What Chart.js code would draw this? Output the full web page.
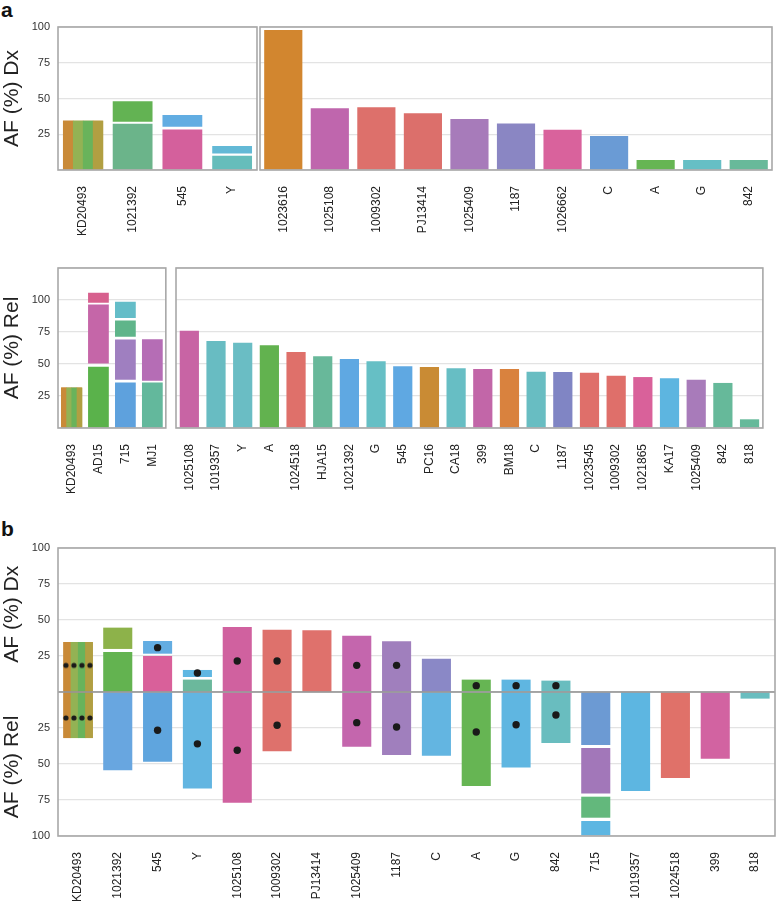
<!DOCTYPE html>
<html>
<head>
<meta charset="utf-8">
<script src="https://cdn.jsdelivr.net/npm/chart.js@4"></script>
<style>
  body { margin: 0; background: #fff; width: 780px; height: 909px; position: relative; overflow: hidden;
         font-family: "Liberation Sans", Arial, sans-serif; }
  canvas { position: absolute; }
  .tag { position: absolute; font-weight: bold; font-size: 21px; color: #111; }
</style>
</head>
<body>
<div class="tag" style="left:1px;top:-2px">a</div>
<div class="tag" style="left:1px;top:517px">b</div>
<canvas id="dxShared" width="259" height="228" style="left:0;top:12px"></canvas>
<canvas id="dxOnly" width="516" height="228" style="left:258px;top:12px"></canvas>
<canvas id="relShared" width="175" height="247" style="left:0;top:253px"></canvas>
<canvas id="relOnly" width="598" height="247" style="left:174px;top:253px"></canvas>
<canvas id="paired" width="779" height="376" style="left:0;top:533px"></canvas>
<script>
// ---- panel a, top: AF (%) at diagnosis ----
const dxSharedLabels = ["KD20493", "1021392", "545", "Y"];
const dxSharedLayer1 = [[0, 34.5], [0, 32.4], [0, 28.4], [0, 10]];
const dxSharedLayer2 = [null, [33.8, 48], [30.3, 38.5], [11.6, 16.8]];
const dxSharedColors1 = ["#c98a38", "#6bb48a", "#d4609c", "#66bdbb"];
const dxSharedColors2 = [null, "#63b353", "#62ade2", "#63b9d6"];

const dxOnlyLabels = ["1023616", "1025108", "1009302", "PJ13414", "1025409", "1187", "1026662", "C", "A", "G", "842"];
const dxOnlyValues = [97.9, 43.1, 43.8, 39.6, 35.7, 32.6, 28.2, 23.8, 7, 7, 7];
const dxOnlyColors = ["#d2862f", "#bf66ad", "#dd706b", "#dc6f6b", "#a77bba", "#8a86c3", "#d9629c", "#6a9bd5", "#66b553", "#66bfc5", "#68b99a"];

// ---- panel a, bottom: AF (%) at relapse ----
const relSharedLabels = ["KD20493", "AD15", "715", "MJ1"];
const relSharedLayer1 = [[0, 31.6], [0, 47.9], [0, 35.5], [0, 35.5]];
const relSharedLayer2 = [null, [50.3, 96.4], [37.6, 69.2], [37, 69.4]];
const relSharedLayer3 = [null, [97.9, 105.7], [71.2, 83.9], null];
const relSharedLayer4 = [null, null, [86, 98.7], null];
const relSharedColors1 = ["#c98a38", "#5ab24b", "#5ea1dd", "#63b89c"];
const relSharedColors2 = [null, "#c566a8", "#9f7fc0", "#b56db5"];
const relSharedColors3 = [null, "#d7608e", "#5fb58a", null];
const relSharedColors4 = [null, null, "#64bdc8", null];

const relOnlyLabels = ["1025108", "1019357", "Y", "A", "1024518", "HJA15", "1021392", "G", "545", "PC16", "CA18",
  "399", "BM18", "C", "1187", "1023545", "1009302", "1021865", "KA17", "1025409", "842", "818"];
const relOnlyValues = [76, 68, 66.6, 64.6, 59.4, 56, 53.9, 52.1, 48.2, 47.7, 46.6,
  46.1, 46, 44, 43.8, 43.2, 40.9, 39.8, 38.8, 37.7, 35.2, 6.8];
const relOnlyColors = ["#c864a4", "#68bcc2", "#6abdc4", "#62b24f", "#df706a", "#68b89a", "#5fa8e2", "#66bfc5", "#5fa8e2", "#c98b34", "#67bec4",
  "#c266a8", "#d9823e", "#68bdc2", "#8085c4", "#df6f6a", "#df6f6a", "#d9619a", "#5db5e0", "#a87bba", "#66b99a", "#66b99a"];

// ---- panel b: paired Dx (up) and Rel (down) ----
const pairedLabels = ["KD20493", "1021392", "545", "Y", "1025108", "1009302", "PJ13414", "1025409", "1187",
  "C", "A", "G", "842", "715", "1019357", "1024518", "399", "818"];
const pairedDx1 = [[0, 34.7], [0, 27.8], [0, 25], [0, 8.6], [0, 45.1], [0, 43.3], [0, 42.8], [0, 39.1], [0, 35.2],
  [0, 23.1], [0, 8.6], [0, 8.6], [0, 7.9], null, null, null, null, null];
const pairedDx2 = [null, [29.9, 44.7], [26.6, 35.4], [10.4, 15.3], null, null, null, null, null,
  null, null, null, null, null, null, null, null, null];
// relapse depths, read on the lower (Rel) half of the axis
const pairedRel1 = [[0, 32], [0, 54.4], [0, 48.4], [0, 67], [0, 76.9], [0, 41.2], null, [0, 38], [0, 43.8],
  [0, 44.2], [0, 65.3], [0, 52.5], [0, 35.4], [0, 36.8], [0, 68.8], [0, 59.7], [0, 46.3], [0, 4.6]];
const pairedRel2 = [null, null, null, null, null, null, null, null, null, null, null, null, null, [38.9, 70.4], null, null, null, null];
const pairedRel3 = [null, null, null, null, null, null, null, null, null, null, null, null, null, [72.7, 87.3], null, null, null, null];
const pairedRel4 = [null, null, null, null, null, null, null, null, null, null, null, null, null, [89.6, 99.5], null, null, null, null];
const pairedDotsDx = [18.5, null, 30.8, 13.2, 21.5, 21.5, null, 18.5, 18.5, null, 4.4, 4.4, 4.4, null, null, null, null, null];
const pairedDotsRel = [18, null, 26.6, 36, 40.5, 23.1, null, 21.3, 24.3, null, 27.8, 22.7, 16, null, null, null, null, null];
const pairedDxColors1 = ["#c98a38", "#63b350", "#d9609a", "#6bb89c", "#d0619f", "#de716c", "#df716c", "#c466ad", "#a07fbd",
  "#8a88c6", "#66b553", "#5fb6e1", "#69bdbf", null, null, null, null, null];
const pairedDxColors2 = [null, "#8db24a", "#63ade2", "#5fb7e2", null, null, null, null, null, null, null, null, null, null, null, null, null, null];
const pairedRelColors1 = ["#c98a38", "#68a6e0", "#5fa5de", "#62b5e1", "#d0619f", "#de716c", null, "#c466ad", "#a07fbd",
  "#63b5e1", "#66b553", "#5fb6e1", "#69bdbf", "#6c9ad3", "#5db6e1", "#e07169", "#d263a1", "#69bdbf"];
const pairedRelColors2 = pairedLabels.map(l => l === "715" ? "#a277b9" : null);
const pairedRelColors3 = pairedLabels.map(l => l === "715" ? "#63b87c" : null);
const pairedRelColors4 = pairedLabels.map(l => l === "715" ? "#5db6e2" : null);

// striped colour for KD20493
const kdStripes = ["#c98a38", "#93b254", "#69b35b", "#b19f42"];

Chart.defaults.font.family = "'Liberation Sans', Arial, sans-serif";
Chart.defaults.animation = false;

//box round the plot area (and the zero line in panel b)
const boxPlugin = {
  id: "box",
  afterDatasetsDraw(chart, args, opts) {
    const a = chart.chartArea, c = chart.ctx;
    c.save();
    if (opts.zeroLine) {
      const y0 = chart.scales.y.getPixelForValue(0);
      c.strokeStyle = "#8e8e8e";
      c.lineWidth = 1.3;
      c.beginPath(); c.moveTo(a.left, y0); c.lineTo(a.right, y0); c.stroke();
    }
    c.strokeStyle = "#a8a8a8";
    c.lineWidth = 1.6;
    c.strokeRect(a.left, a.top, a.right - a.left, a.bottom - a.top);
    c.restore();
  }
};

//vertical stripes painted over the listed bars
const stripePlugin = {
  id: "stripes",
  afterDatasetDraw(chart, args) {
    const ds = chart.data.datasets[args.index];
    if (!ds.striped) return;
    const c = chart.ctx;
    ds.striped.forEach(i => {
      const el = args.meta.data[i];
      if (!el) return;
      const p = el.getProps(["x", "y", "base", "width"], true);
      const left = p.x - p.width / 2, top = Math.min(p.y, p.base), h = Math.abs(p.base - p.y);
      const w = p.width / kdStripes.length;
      kdStripes.forEach((col, k) => {
        c.fillStyle = col;
        c.fillRect(left + k * w, top, w + 0.5, h);
      });
    });
  }
};

//two rotated titles for the upper and lower halves of panel b
const sideTitlePlugin = {
  id: "sideTitles",
  afterDraw(chart, args, opts) {
    if (!opts.items) return;
    const c = chart.ctx;
    c.save();
    c.font = "21px 'Liberation Sans', Arial, sans-serif";
    c.fillStyle = "#222";
    c.textAlign = "center";
    c.textBaseline = "middle";
    opts.items.forEach(it => {
      const y = chart.scales.y.getPixelForValue(it.value);
      c.save(); c.translate(12, y); c.rotate(-Math.PI / 2); c.fillText(it.text, 0, 0); c.restore();
    });
    c.restore();
  }
};

//little row of four dots used for KD20493
const rowDots = document.createElement("canvas");
rowDots.width = 32; rowDots.height = 8;
const rd = rowDots.getContext("2d");
rd.fillStyle = "#1a1a1a";
for (let k = 0; k < 4; k++) { rd.beginPath(); rd.arc(4 + k * 8, 4, 2.6, 0, Math.PI * 2); rd.fill(); }

const yAxis = (min, max, showLabels, hidden, title, width) => ({
  min: min, max: max,
  afterFit: s => { s.width = width; },
  grid: { color: "#e3e3e3", drawTicks: false, lineWidth: 1.2 },
  border: { display: false },
  ticks: {
    stepSize: 25, display: showLabels, padding: 8, color: "#333", font: { size: 11 },
    callback: v => hidden.includes(v) ? "" : Math.abs(v)
  },
  title: title ? { display: true, text: title, color: "#222", font: { size: 21 }, padding: 0 } : { display: false }
});

const xAxis = height => ({
  afterFit: s => { s.height = height; },
  grid: { display: false },
  border: { display: false },
  ticks: { autoSkip: false, maxRotation: 90, minRotation: 90, padding: 8, color: "#222", font: { size: 12 } }
});

const makeChart = (id, labels, datasets, y, xHeight, barPct, extra) => new Chart(document.getElementById(id), {
  type: "bar",
  plugins: [boxPlugin, stripePlugin, sideTitlePlugin],
  data: { labels: labels, datasets: datasets },
  options: {
    responsive: false,
    layout: { padding: { top: 15, right: 2, left: 0, bottom: 0 } },
    datasets: { bar: { grouped: false, barPercentage: barPct, categoryPercentage: 1, borderWidth: 0 } },
    scales: { x: xAxis(xHeight), y: y },
    plugins: Object.assign({ legend: { display: false }, tooltip: { enabled: false } }, extra || {})
  }
});

makeChart("dxShared", dxSharedLabels, [
  { data: dxSharedLayer1, backgroundColor: dxSharedColors1, striped: [0] },
  { data: dxSharedLayer2, backgroundColor: dxSharedColors2 }
], yAxis(0, 100, true, [0], "AF (%) Dx", 58), 70, 0.8);

makeChart("dxOnly", dxOnlyLabels, [
  { data: dxOnlyValues, backgroundColor: dxOnlyColors }
], yAxis(0, 100, false, [0], null, 2), 70, 0.82);

makeChart("relShared", relSharedLabels, [
  { data: relSharedLayer1, backgroundColor: relSharedColors1, striped: [0] },
  { data: relSharedLayer2, backgroundColor: relSharedColors2 },
  { data: relSharedLayer3, backgroundColor: relSharedColors3 },
  { data: relSharedLayer4, backgroundColor: relSharedColors4 }
], yAxis(0, 125, true, [0, 125], "AF (%) Rel", 58), 72, 0.77);

makeChart("relOnly", relOnlyLabels, [
  { data: relOnlyValues, backgroundColor: relOnlyColors }
], yAxis(0, 125, false, [0, 125], null, 2), 72, 0.72);

//relapse values go below zero
const down = arr => arr.map(r => r ? [-r[1], -r[0]] : null);
makeChart("paired", pairedLabels, [
  { type: "line", data: pairedDotsDx, showLine: false, pointRadius: 3.7, pointBorderWidth: 0,
    pointBackgroundColor: "#1a1a1a", pointStyle: ctx => ctx.dataIndex === 0 ? rowDots : "circle" },
  { type: "line", data: pairedDotsRel.map(v => v === null ? null : -v), showLine: false, pointRadius: 3.7, pointBorderWidth: 0,
    pointBackgroundColor: "#1a1a1a", pointStyle: ctx => ctx.dataIndex === 0 ? rowDots : "circle" },
  { data: pairedDx1, backgroundColor: pairedDxColors1, striped: [0] },
  { data: pairedDx2, backgroundColor: pairedDxColors2 },
  { data: down(pairedRel1), backgroundColor: pairedRelColors1, striped: [0] },
  { data: down(pairedRel2), backgroundColor: pairedRelColors2 },
  { data: down(pairedRel3), backgroundColor: pairedRelColors3 },
  { data: down(pairedRel4), backgroundColor: pairedRelColors4 }
], yAxis(-100, 100, true, [0], null, 58), 73, 0.73, {
  box: { zeroLine: true },
  sideTitles: { items: [{ text: "AF (%) Dx", value: 54 }, { text: "AF (%) Rel", value: -52 }] }
});
</script>
</body>
</html>
